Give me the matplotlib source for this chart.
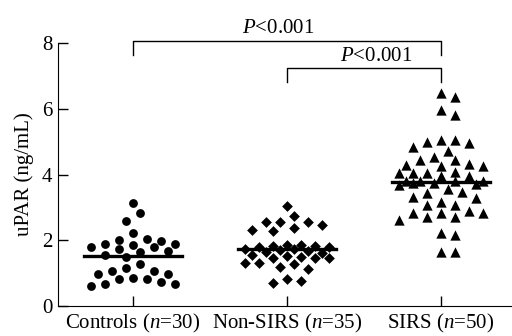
import numpy as np
import matplotlib.pyplot as plt

plt.rcParams['font.family'] = ['Liberation Serif', 'DejaVu Serif']
plt.rcParams['mathtext.fontset'] = 'custom'
plt.rcParams['mathtext.rm'] = 'Liberation Serif'
plt.rcParams['mathtext.it'] = 'Liberation Serif:italic'

categories = ['Controls ($\\it{n}$=30)', 'Non-SIRS ($\\it{n}$=35)', 'SIRS ($\\it{n}$=50)']

controls = [3.12, 2.82, 2.59, 2.23, 2.05, 1.97, 2.01, 1.79, 1.72, 1.63,
            1.90, 1.86, 1.90, 1.68, 1.79, 1.50, 1.56, 1.27, 1.15, 1.06,
            0.96, 1.06, 0.96, 0.86, 0.81, 0.82, 0.74, 0.66, 0.61, 0.66]
non_sirs = [3.05, 2.74, 2.54, 2.46, 2.31, 2.28, 2.38, 2.54, 2.54,
            1.68, 1.80, 1.72, 1.86, 1.81, 1.86, 1.72, 1.70, 1.83, 1.80,
            1.60, 1.65, 1.45, 1.52, 1.30, 1.45, 1.20, 1.45, 1.12, 1.50,
            1.30, 1.28, 1.55, 0.81, 0.69, 0.76]
sirs = [6.49, 6.37, 5.81, 5.96, 5.05, 5.00, 4.85, 4.73, 4.95, 5.05,
        4.52, 4.44, 4.29, 4.27, 4.27, 4.32, 4.44, 4.09, 4.04, 3.94,
        3.94, 4.04, 4.04, 3.81, 3.75, 3.68, 3.80, 3.81, 3.74, 3.71,
        3.81, 3.43, 3.28, 3.48, 3.55, 3.17, 3.33, 3.07, 3.07, 2.90,
        2.82, 2.72, 2.62, 2.72, 2.82, 2.82, 2.21, 2.16, 1.63, 1.63, 1.33]
sirs = sirs[:50]
means = [1.53, 1.72, 3.78]

groups = [controls, non_sirs, sirs]
markers = ['o', 'D', '^']
sizes = [40, 30, 55]

fig = plt.figure(figsize=(5.12, 3.36), dpi=100)
ax = fig.add_axes([0.1133, 0.0893, 0.8867, 0.7827])
ax.set_xlim(-0.487, 2.46)
ax.set_ylim(0, 8)

# pixel scale, used for a simple beeswarm layout
px_x = 154.0
px_y = 263 / 8.0


def swarm(vals, step=7.0, dist=11.5, half=46.0):
    vals = np.asarray(vals)
    order = np.argsort(-vals, kind='stable')
    kmax = int(half // step)
    cands = [0.0]
    for k in range(1, kmax + 1):
        cands += [k * step, -k * step]
    placed = []
    offs = np.zeros(len(vals))
    for i in order:
        y = vals[i] * px_y
        best, best_d = 0.0, -1.0
        for c in cands:
            d = min([np.hypot(c - px, y - py) for px, py in placed] or [1e9])
            if d >= dist:
                best = c
                break
            if d > best_d:
                best, best_d = c, d
        placed.append((best, y))
        offs[i] = best / px_x
    return offs


for i, vals in enumerate(groups):
    offs = swarm(vals)
    ax.scatter(i + offs, vals, marker=markers[i], s=sizes[i], color='black',
               linewidths=0, zorder=3)
    ax.plot([i - 0.32, i + 0.32], [means[i], means[i]], color='black', lw=2.4, zorder=4)

ax.set_xticks(range(3))
ax.set_xticklabels(categories, fontsize=15)
ax.set_yticks([0, 2, 4, 6, 8])
ax.tick_params(axis='y', direction='in', length=7, width=1, labelsize=15, pad=4)
ax.tick_params(axis='x', direction='in', length=7, width=1, labelsize=15, pad=4)
ax.set_ylabel('uPAR (ng/mL)', fontsize=15, labelpad=6)
ax.spines['top'].set_visible(False)
ax.spines['right'].set_visible(False)

# significance brackets
ax.plot([0, 0, 2, 2], [7.63, 8.06, 8.06, 7.63], color='black', lw=1, clip_on=False)
ax.text(0.94, 8.30, '$\\it{P}$<0.001', ha='center', va='baseline', fontsize=15)
ax.plot([1, 1, 2, 2], [6.81, 7.24, 7.24, 6.81], color='black', lw=1, clip_on=False)
ax.text(1.58, 7.45, '$\\it{P}$<0.001', ha='center', va='baseline', fontsize=15)

fig.savefig('out.png', dpi=100)
